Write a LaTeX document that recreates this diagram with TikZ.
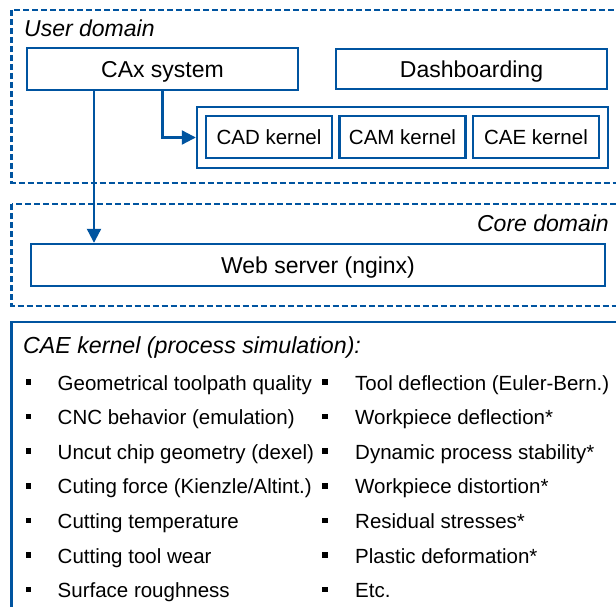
\documentclass[tikz,border=0pt]{standalone}
\usepackage{fontspec}
\setmainfont{Liberation Sans}
\usetikzlibrary{arrows.meta}
\definecolor{kblue}{RGB}{0,84,160}
\begin{document}
\begin{tikzpicture}[x=1pt,y=-1pt,
  frame/.style={draw=kblue,line width=2.4pt},
  dframe/.style={draw=kblue,line width=2.2pt,dash pattern=on 6pt off 3pt},
  bigbox/.style={draw=kblue,line width=2.4pt,inner sep=0pt,font=\fontsize{23}{27}\selectfont,text height=16.5pt,text depth=0pt},
  kbox/.style={draw=kblue,line width=2.4pt,inner sep=0pt,minimum width=126pt,minimum height=42pt,font=\fontsize{20.5}{24}\selectfont,text height=14.7pt,text depth=0pt},
  conn/.style={draw=kblue,line width=2.2pt,-{Triangle[length=14pt,width=14pt]}},
  dlabel/.style={font=\fontsize{23}{27}\selectfont\itshape,inner sep=0pt},
  item/.style={font=\fontsize{20.5}{24}\selectfont,inner sep=0pt,anchor=base west},
  bul/.style={fill=black,inner sep=0pt,minimum size=5.5pt},
]
\useasboundingbox (0,0) rectangle (616,607);
\fill[white] (0,0) rectangle (616,607);
\clip (0,0) rectangle (616,607);

% domains
\draw[dframe] (11.5,10) rectangle (630,183);
\draw[dframe] (11.5,204) rectangle (630,306);
\draw[frame] (11.5,322) rectangle (630,630);

\node[dlabel,anchor=base west] (userlbl) at (24,37) {User domain};
\node[dlabel,anchor=base east] (corelbl) at (609,231) {Core domain};

% user domain boxes
\node[bigbox,minimum width=271pt,minimum height=42pt] (cax) at (162.5,69) {CAx system};
\node[bigbox,minimum width=271pt,minimum height=40pt] (dash) at (471.5,69) {Dashboarding};
\node[frame,inner sep=0pt,minimum width=411pt,minimum height=61pt] (kc) at (402.5,137.5) {};
\node[kbox] (cad) at (269,137) {CAD kernel};
\node[kbox] (cam) at (402.5,137) {CAM kernel};
\node[kbox] (cae) at (536,137) {CAE kernel};

% core domain
\node[bigbox,minimum width=574pt,minimum height=42pt] (web) at (318,265) {Web server (nginx)};

% connectors
\coordinate (sx) at (94,0);
\draw[conn] (cax.south) |- (kc.west);
\draw[conn] (cax.south -| sx) -- (web.north -| sx);

% CAE kernel list
\node[font=\fontsize{23.2}{27}\selectfont\itshape,inner sep=0pt,anchor=base west] (title) at (23,353.5) {CAE kernel (process simulation):};

\foreach \i/\ta/\tb in {
  1/{Geometrical toolpath quality}/{Tool deflection (Euler-Bern.)},
  2/{CNC behavior (emulation)}/{Workpiece deflection*},
  3/{Uncut chip geometry (dexel)}/{Dynamic process stability*},
  4/{Cuting force (Kienzle/Altint.)}/{Workpiece distortion*},
  5/{Cutting temperature}/{Residual stresses*},
  6/{Cutting tool wear}/{Plastic deformation*},
  7/{Surface roughness}/{Etc.}}{
  \pgfmathsetmacro{\yb}{390+34.6*(\i-1)}
  \node[bul] (ba\i) at (28.5,\yb-8) {};
  \node[item] (ta\i) at (57.5,\yb) {\ta};
  \node[bul] (bb\i) at (325,\yb-8) {};
  \node[item] (tb\i) at (355,\yb) {\tb};
}
\end{tikzpicture}
\end{document}
